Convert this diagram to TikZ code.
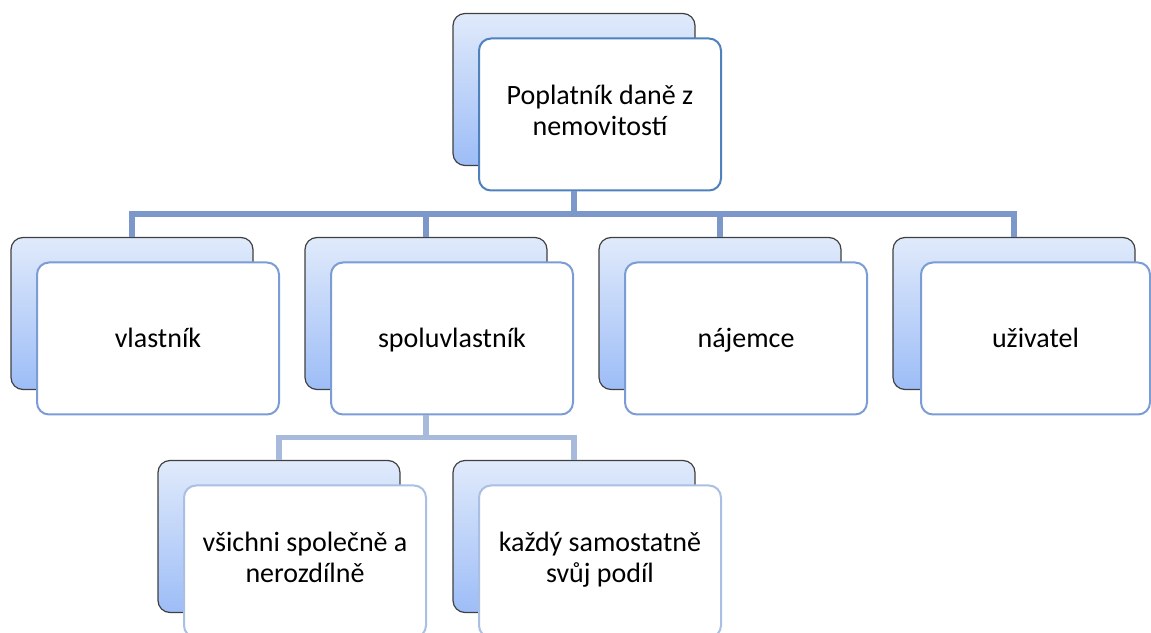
\documentclass[tikz,border=0pt]{standalone}
\usepackage{fontspec}
\setmainfont{Carlito}
\usepackage{tikz}
\usetikzlibrary{positioning,calc}
\definecolor{kartaTop}{HTML}{4F81BD}
\definecolor{kartaMid}{HTML}{7B9CD4}
\definecolor{kartaLow}{HTML}{A9BFE3}
\definecolor{spojTop}{HTML}{7C97C9}
\definecolor{spojLow}{HTML}{A8BADC}
\definecolor{zadniHore}{HTML}{E0EAFB}
\definecolor{zadniDole}{HTML}{9DBDF7}
\tikzset{
  zadni/.style={draw=black!75, line width=0.6pt, rounded corners=6pt, top color=zadniHore, bottom color=zadniDole, minimum width=121pt, minimum height=76pt, inner sep=0pt},
  karta/.style={draw=#1, line width=1pt, fill=white, rounded corners=6pt, minimum width=121pt, minimum height=76pt, inner sep=2pt, align=center, font=\fontsize{14}{15.5}\selectfont, execute at begin node={\rule{0pt}{13.9pt}}, execute at end node=\strut, xshift=13pt, yshift=-12.5pt},
  spoj/.style={draw=#1, line width=2.7pt},
}

\begin{document}
\begin{tikzpicture}
\useasboundingbox (0,0) rectangle (575.5pt,316pt);
\clip (0,0) rectangle (575.5pt,316pt);

% koren
\node[zadni] (poplB) at (287pt,271.25pt) {};
\node[karta=kartaTop] (popl) at (poplB) {Poplatník daně z\\nemovitostí};

% prvni uroven
\node[zadni] (vlastB) at (66pt,159.25pt) {};
\node[zadni] (spoluB) at (213pt,159.25pt) {};
\node[zadni] (najB) at (360pt,159.25pt) {};
\node[zadni] (uzivB) at (507pt,159.25pt) {};
\node[karta=kartaMid] (vlast) at (vlastB) {vlastník};
\node[karta=kartaMid] (spolu) at (spoluB) {spoluvlastník};
\node[karta=kartaMid] (naj) at (najB) {nájemce};
\node[karta=kartaMid, minimum width=114.5pt, xshift=-2.25pt] (uziv) at (uzivB) {uživatel};

% druha uroven
\node[zadni] (vsichniB) at (139.5pt,47.75pt) {};
\node[zadni] (kazdyB) at (287pt,47.75pt) {};
\node[karta=kartaLow] (vsichni) at (vsichniB) {všichni společně a\\nerozdílně};
\node[karta=kartaLow] (kazdy) at (kazdyB) {každý samostatně\\svůj podíl};

% spojnice
\coordinate (rozv1) at ($(poplB |- popl.south)!0.5!(poplB |- vlastB.north)$);
\foreach \n in {vlastB,spoluB,najB,uzivB}
  \draw[spoj=spojTop] (poplB |- popl.south) -- (rozv1) -| (\n.north);
\coordinate (rozv2) at ($(spoluB |- spolu.south)!0.5!(spoluB |- vsichniB.north)$);
\foreach \n in {vsichniB,kazdyB}
  \draw[spoj=spojLow] (spoluB |- spolu.south) -- (rozv2) -| (\n.north);
\end{tikzpicture}
\end{document}
